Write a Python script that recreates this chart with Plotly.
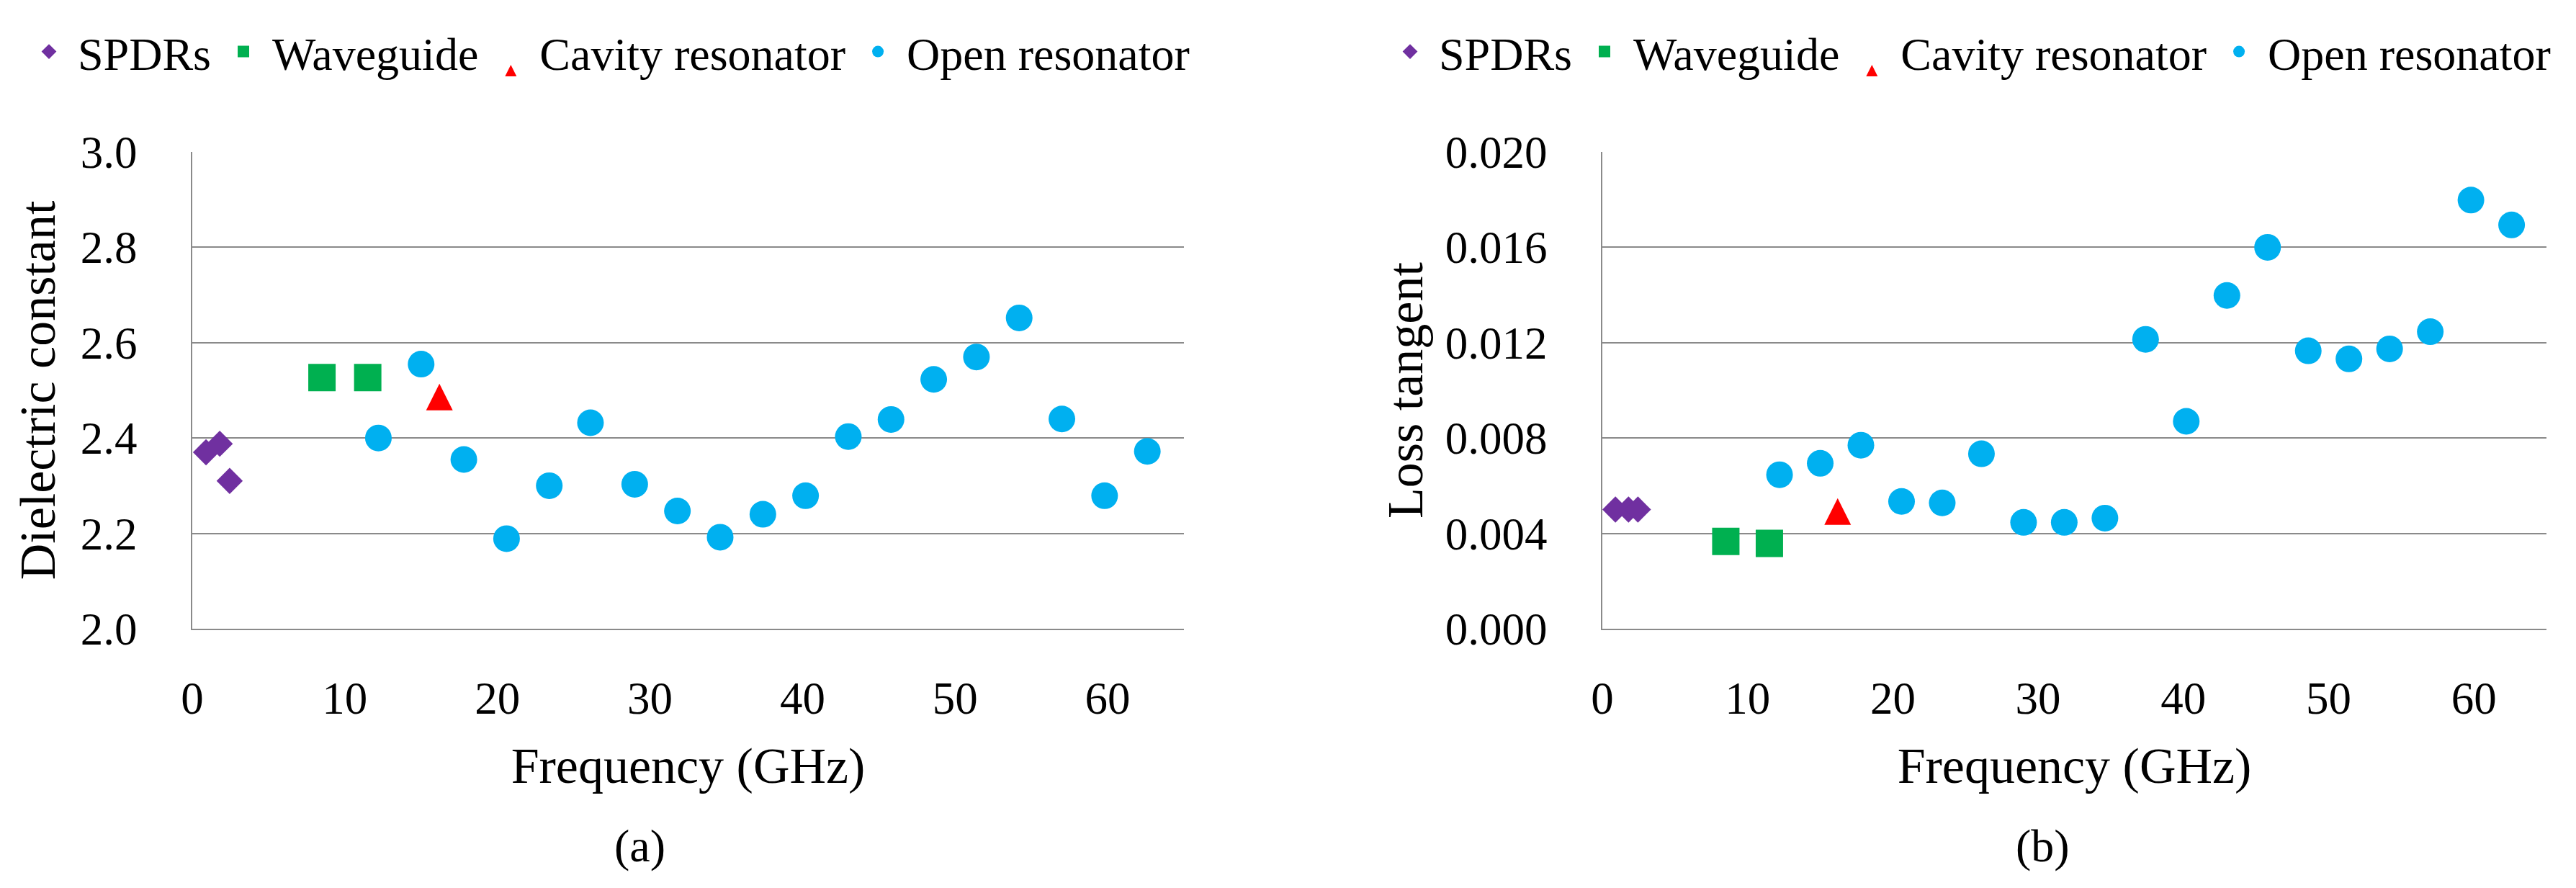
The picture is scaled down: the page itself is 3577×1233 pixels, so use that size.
import plotly.graph_objects as go

# ---------------- data ----------------
spdr_freq = [0.9, 1.8, 2.45]
spdr_eps = [2.37, 2.388, 2.31]
spdr_tan = [0.005, 0.005, 0.005]

wg_freq = [8.5, 11.5]
wg_eps = [2.527, 2.527]
wg_tan = [0.00366, 0.00358]

cav_freq = [16.2]
cav_eps = [2.486]
cav_tan = [0.00492]

open_freq = [12.2, 15.0, 17.8, 20.6, 23.4, 26.1, 29.0, 31.8, 34.6, 37.4,
             40.2, 43.0, 45.8, 48.6, 51.4, 54.2, 57.0, 59.8, 62.6]
open_eps = [2.40, 2.555, 2.355, 2.189, 2.30, 2.432, 2.303, 2.247, 2.192, 2.24,
            2.279, 2.403, 2.439, 2.523, 2.57, 2.652, 2.44, 2.279, 2.372]
open_tan = [0.00646, 0.00694, 0.0077, 0.00534, 0.00528, 0.00734, 0.00446, 0.00446,
            0.00464, 0.01214, 0.0087, 0.01398, 0.016, 0.01166, 0.01132, 0.01174,
            0.01246, 0.01798, 0.01694]

series_names = ["SPDRs", "Waveguide", "Cavity resonator", "Open resonator"]
x_ticks = [0, 10, 20, 30, 40, 50, 60]
eps_ticks = [2.0, 2.2, 2.4, 2.6, 2.8, 3.0]
tan_ticks = [0.000, 0.004, 0.008, 0.012, 0.016, 0.020]

# ---------------- style ----------------
W, H = 3577, 1233
FONT = "Liberation Serif"
GRID = "#8a8a8a"
COL = {"SPDRs": "#7030A0", "Waveguide": "#00B050",
       "Cavity resonator": "#FF0000", "Open resonator": "#00B0F0"}

fig = go.Figure()


def add_panel(xa, ya, legend, yvals):
    freqs = [spdr_freq, wg_freq, cav_freq, open_freq]
    syms = [dict(symbol="diamond", size=28),
            dict(symbol="square", size=38),
            dict(symbol="arrow-down", size=37, angle=180, standoff=18.5),
            dict(symbol="circle", size=37)]
    for name, fx, fy, sm in zip(series_names, freqs, yvals, syms):
        fig.add_trace(go.Scatter(
            x=fx, y=fy, mode="markers", name=name,
            xaxis=xa, yaxis=ya, legend=legend,
            marker=dict(color=COL[name], line=dict(width=0), **sm),
        ))


add_panel("x", "y", "legend", [spdr_eps, wg_eps, cav_eps, open_eps])
add_panel("x2", "y2", "legend2", [spdr_tan, wg_tan, cav_tan, open_tan])

xdom1 = [259 / W, 1636 / W]
xdom2 = [2217 / W, 3528 / W]
ydom = [368 / H, 1030 / H]

tickfont = dict(family=FONT, size=63, color="black")
titlefont = dict(family=FONT, size=70, color="black")

common_x = dict(range=[0, 65], tickvals=x_ticks, showgrid=False, zeroline=False,
                showline=True, linecolor=GRID, linewidth=2, ticks="",
                tickfont=tickfont, ticklabelstandoff=40, automargin=False,
                title=dict(text="Frequency (GHz)", font=titlefont, standoff=34))
common_y = dict(showgrid=True, gridcolor=GRID, gridwidth=2, zeroline=False,
                showline=True, linecolor=GRID, linewidth=2, ticks="",
                tickfont=tickfont, ticklabelstandoff=62, automargin=False)

fig.update_layout(
    width=W, height=H,
    margin=dict(l=0, r=0, t=0, b=0, autoexpand=False),
    paper_bgcolor="white", plot_bgcolor="white",
    font=dict(family=FONT, color="black"),
    xaxis=dict(domain=xdom1, anchor="y", **common_x),
    yaxis=dict(domain=ydom, anchor="x", range=[2.0, 3.0], tickvals=eps_ticks,
               tickformat=".1f",
               title=dict(text="Dielectric constant", font=titlefont, standoff=12),
               **common_y),
    xaxis2=dict(domain=xdom2, anchor="y2", **common_x),
    yaxis2=dict(domain=ydom, anchor="x2", range=[0, 0.020], tickvals=tan_ticks,
                tickformat=".3f",
                title=dict(text="Loss tangent", font=titlefont, standoff=8),
                **common_y),
    legend=dict(orientation="h", x=20 / W, xanchor="left", y=1 - 64 / H, yanchor="middle",
                font=dict(family=FONT, size=64, color="black"), itemwidth=70,
                bgcolor="rgba(0,0,0,0)"),
    legend2=dict(orientation="h", x=1910 / W, xanchor="left", y=1 - 64 / H, yanchor="middle",
                 font=dict(family=FONT, size=64, color="black"), itemwidth=70,
                 bgcolor="rgba(0,0,0,0)"),
    annotations=[
        dict(text="(a)", x=880 / W, y=1 - 1166 / H, xref="paper", yref="paper",
             xanchor="center", yanchor="middle",
             showarrow=False, font=dict(family=FONT, size=64, color="black")),
        dict(text="(b)", x=2828 / W, y=1 - 1166 / H, xref="paper", yref="paper",
             xanchor="center", yanchor="middle",
             showarrow=False, font=dict(family=FONT, size=64, color="black")),
    ],
)

fig.write_html("out.html")
